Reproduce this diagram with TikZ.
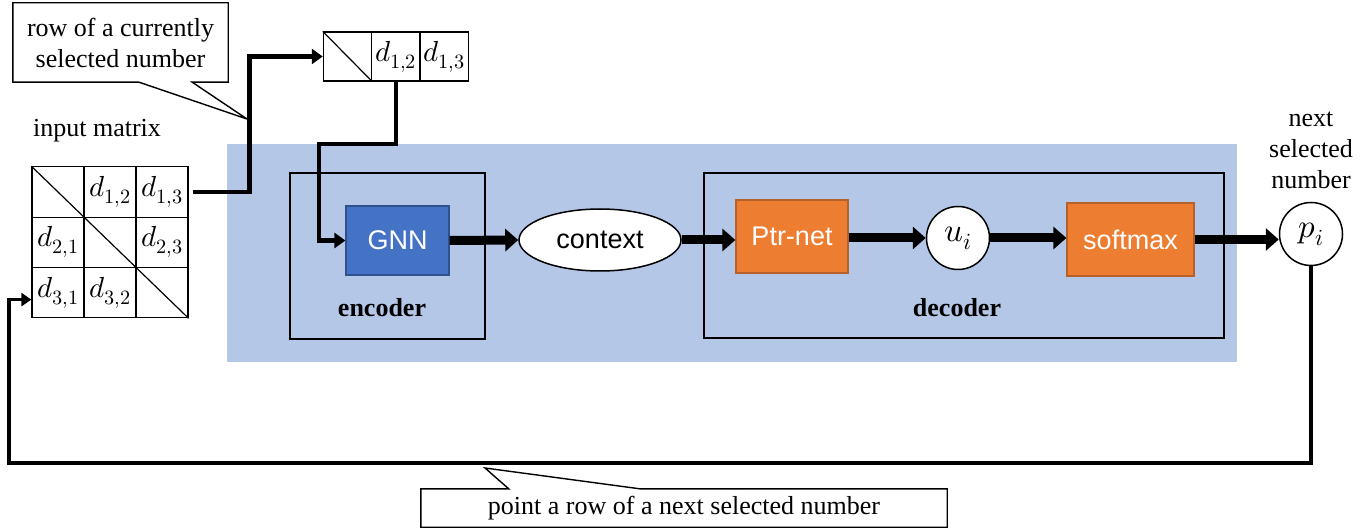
\documentclass[tikz,border=0pt]{standalone}
\usepackage{fontspec}
\setmainfont{Liberation Serif}
\newfontfamily\sansf{Liberation Sans}
\usepackage{unicode-math}
\setmathfont{Latin Modern Math}
\usetikzlibrary{arrows.meta,shapes.geometric,calc}
\definecolor{bgblue}{HTML}{B4C7E7}
\definecolor{gnnblue}{HTML}{4472C4}
\definecolor{gnnedge}{HTML}{2F528F}
\definecolor{orfill}{HTML}{ED7D31}
\definecolor{oredge}{HTML}{B6602A}
\tikzset{
  cell/.style={draw, line width=1.2pt, minimum width=52pt, minimum height=50.3pt, inner sep=0pt, font=\fontsize{29}{32}\selectfont},
  rcell/.style={draw, line width=1.2pt, minimum width=48.3pt, minimum height=49pt, inner sep=0pt, font=\fontsize{29}{32}\selectfont},
  group/.style={draw, line width=1.4pt},
  gnnbox/.style={draw=gnnedge, fill=gnnblue, line width=1.2pt, text=white, font=\sansf\fontsize{27}{30}\selectfont, inner sep=0pt},
  orbox/.style={draw=oredge, fill=orfill, line width=1.2pt, text=white, font=\sansf\fontsize{27}{30}\selectfont, inner sep=0pt},
  circ/.style={circle, draw, fill=white, line width=1.5pt, minimum size=63pt, inner sep=0pt, font=\fontsize{33}{36}\selectfont},
  bigarrow/.style={line width=9pt, -{Triangle[length=13pt,width=22pt]}},
  linkarrow/.style={line width=4.5pt, -{Triangle[length=11pt,width=15pt]}},
  fbarrow/.style={line width=3.5pt, -{Triangle[length=10pt,width=13pt]}},
  callout/.style={draw, fill=white, line width=1.4pt, line join=miter},
  label/.style={font=\fontsize{26}{31}\selectfont, align=center, inner sep=0pt}
}
\begin{document}
\begin{tikzpicture}[x=1pt,y=-1pt, font=\fontsize{26}{31}\selectfont]
\useasboundingbox (0,0) rectangle (1369,529);
% background
\fill[bgblue] (227,144) rectangle (1237,362);
% groups
\node[group, minimum width=195pt, minimum height=166pt] (enc) at (387.5,256) {};
\node[group, minimum width=520pt, minimum height=165pt] (dec) at (964,255.5) {};
\node[font=\bfseries\fontsize{26}{30}\selectfont] (enclbl) at (382,308) {encoder};
\node[font=\bfseries\fontsize{26}{30}\selectfont] (declbl) at (957,308) {decoder};
% blocks
\node[gnnbox, minimum width=103pt, minimum height=69pt] (gnn) at (397.5,240.5) {GNN};
\node[ellipse, draw, fill=white, line width=1.5pt, minimum width=162pt, minimum height=62pt, inner sep=0pt, font=\sansf\fontsize{27}{30}\selectfont] (ctx) at (600,240) {context};
\node[orbox, minimum width=112pt, minimum height=73pt] (ptr) at (792,236.5) {Ptr-net};
\node[circ] (ui) at (958,238) {$u_i$};
\node[orbox, minimum width=127pt, minimum height=73pt] (soft) at (1130.5,239.5) {softmax};
\node[circ] (pi) at (1311,234) {$p_i$};
\node[label] (nsn) at (1311,150) {next\\selected\\number};
% input matrix
\node[label] (iml) at (97,131) {input matrix};
\node[cell] (m11) at (58,192) {};
\node[cell] (m12) at (110,192) {$d_{1,2}$};
\node[cell] (m13) at (162,192) {$d_{1,3}$};
\node[cell] (m21) at (58,242.3) {$d_{2,1}$};
\node[cell] (m22) at (110,242.3) {};
\node[cell] (m23) at (162,242.3) {$d_{2,3}$};
\node[cell] (m31) at (58,292.6) {$d_{3,1}$};
\node[cell] (m32) at (110,292.6) {$d_{3,2}$};
\node[cell] (m33) at (162,292.6) {};
\draw[line width=1.2pt] (m11.north west) -- (m33.south east);
% row vector
\node[rcell] (r1) at (347.5,56.5) {};
\node[rcell] (r2) at (395.8,56.5) {$d_{1,2}$};
\node[rcell] (r3) at (444.1,56.5) {$d_{1,3}$};
\draw[line width=1.2pt] (r1.north west) -- (r1.south east);
% connectors
\draw[linkarrow] ([xshift=4pt]m13.east) -- ++(57,0) |- (r1.west);
\coordinate (bend) at (319,144);
\draw[linkarrow] (r2.south) |- (bend) |- (gnn.west);
\draw[bigarrow] (gnn.east) -- (ctx.west);
\draw[bigarrow] (ctx.east) -- (ctx.east -| ptr.west);
\draw[bigarrow] (ptr.east |- ui.west) -- (ui.west);
\draw[bigarrow] (ui.east) -- (ui.east -| soft.west);
\draw[bigarrow] (soft.east) -- (soft.east -| pi.west);
\coordinate (fbl) at (9,463);
\draw[fbarrow] (pi.south) |- (fbl) |- ([yshift=-7pt]m31.west);
% callouts
\node[label, minimum width=215pt, minimum height=79pt] (c1) at (120.5,42.5) {};
\coordinate (t1) at (247,119);
\draw[callout] (c1.north west) -- (c1.north east) -- (c1.south east)
  -- ($(c1.south west)!0.833!(c1.south east)$) -- (t1)
  -- ($(c1.south west)!0.586!(c1.south east)$) -- (c1.south west) -- cycle;
\node[label] (c1t) at (c1.center) {row of a currently\\selected number};
\node[label, minimum width=526pt, minimum height=38pt] (c2) at (684,508) {};
\coordinate (t2) at (485,468);
\draw[callout] (c2.north west) -- ($(c2.north west)!0.167!(c2.north east)$) -- (t2)
  -- ($(c2.north west)!0.416!(c2.north east)$) -- (c2.north east)
  -- (c2.south east) -- (c2.south west) -- cycle;
\node[label] (c2t) at (c2.center) {point a row of a next selected number};
\end{tikzpicture}
\end{document}
